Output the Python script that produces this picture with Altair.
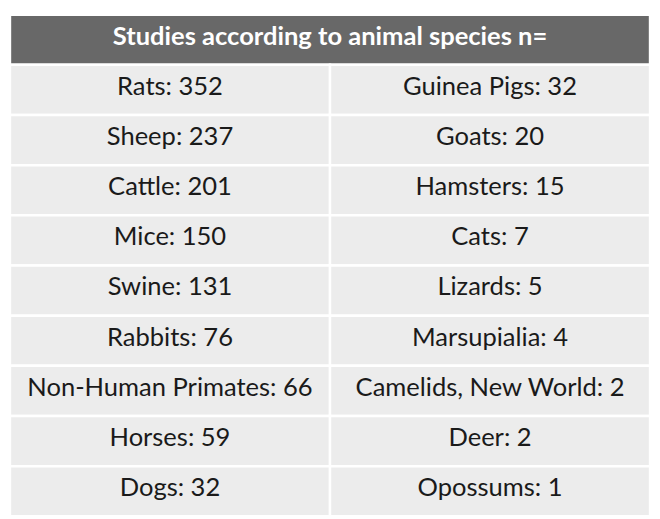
import altair as alt
import pandas as pd

title_text = "Studies according to animal species n="
left_species = ["Rats", "Sheep", "Cattle", "Mice", "Swine", "Rabbits",
                "Non-Human Primates", "Horses", "Dogs"]
left_counts = [352, 237, 201, 150, 131, 76, 66, 59, 32]
right_species = ["Guinea Pigs", "Goats", "Hamsters", "Cats", "Lizards",
                 "Marsupialia", "Camelids, New World", "Deer", "Opossums"]
right_counts = [32, 20, 15, 7, 5, 4, 2, 2, 1]

records = []
for i, (s, c) in enumerate(zip(left_species, left_counts)):
    records.append({"row": i + 1, "col": 0, "span": 1, "label": f"{s}: {c}"})
for i, (s, c) in enumerate(zip(right_species, right_counts)):
    records.append({"row": i + 1, "col": 1, "span": 1, "label": f"{s}: {c}"})
cells = pd.DataFrame(records)
header = pd.DataFrame([{"row": 0, "col": 0, "span": 2, "label": title_text}])

n_rows = len(left_species) + 1
xs = alt.Scale(domain=[0, 2], nice=False, zero=False)
ys = alt.Scale(domain=[0, n_rows], nice=False, zero=False, reverse=True)


def rect_layer(df, fill):
    return alt.Chart(df).transform_calculate(
        x1="datum.col + datum.span", y1="datum.row + 1"
    ).mark_rect(fill=fill, stroke="white", strokeWidth=2.5).encode(
        x=alt.X("col:Q", scale=xs, axis=None),
        x2="x1:Q",
        y=alt.Y("row:Q", scale=ys, axis=None),
        y2="y1:Q",
    )


def text_layer(df, **kw):
    return alt.Chart(df).transform_calculate(
        xc="datum.col + datum.span / 2", yc="datum.row + 0.5"
    ).mark_text(align="center", baseline="middle", **kw).encode(
        x=alt.X("xc:Q", scale=xs, axis=None),
        y=alt.Y("yc:Q", scale=ys, axis=None),
        text="label:N",
    )


chart = alt.layer(
    rect_layer(header, "#686868"),
    rect_layer(cells, "#ececec"),
    text_layer(header, font="Lato", fontSize=26, fontWeight="bold", color="white", dy=-3),
    text_layer(cells, font="Lato", fontSize=26, color="#1a1a1a", dy=-3),
).properties(
    width=652, height=511, padding=0, background="white"
).configure_view(stroke=None)

chart.save("out.html", embed_options={"renderer": "svg", "actions": False})
